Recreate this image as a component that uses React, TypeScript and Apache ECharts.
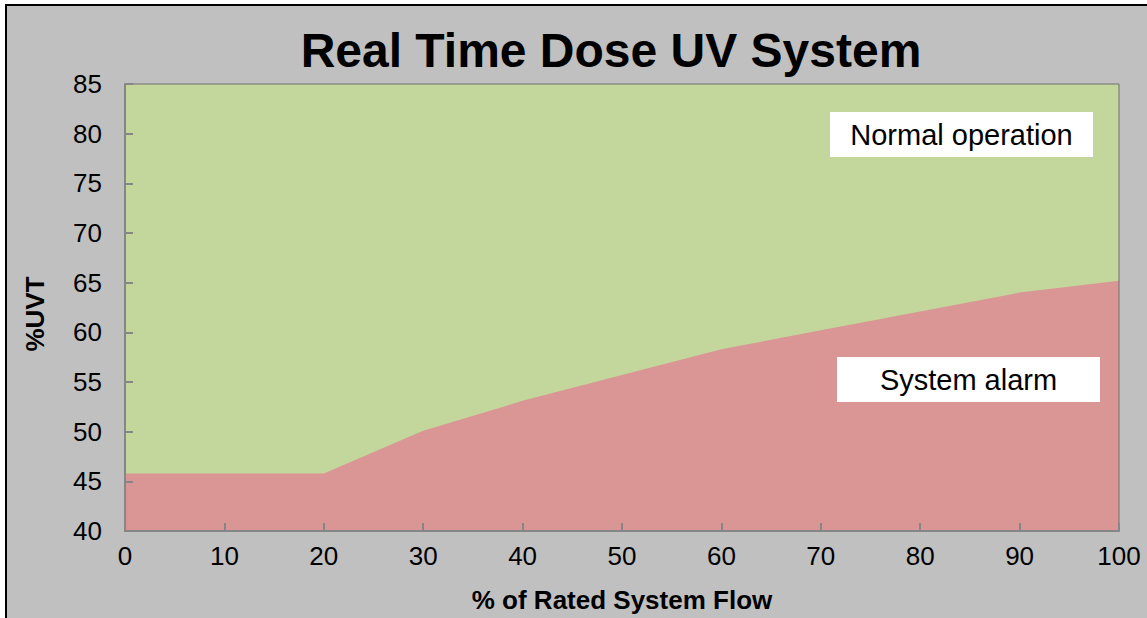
import React, { useEffect, useRef } from "react";
import * as echarts from "echarts";

const flowPercent = [0, 10, 20, 30, 40, 50, 60, 70, 80, 90, 100];
const alarmUVT = [45.8, 45.8, 45.8, 50.1, 53.1, 55.7, 58.3, 60.2, 62.1, 64.0, 65.2];
const topUVT = [85, 85, 85, 85, 85, 85, 85, 85, 85, 85, 85];

const FONT = "'Liberation Sans', Arial, sans-serif";

export default function App() {
  const ref = useRef<HTMLDivElement>(null);
  useEffect(() => {
    if (!ref.current) return;
    const chart = echarts.init(ref.current, null, { renderer: "svg" });
    const normalData = flowPercent.map((x, i) => [x, topUVT[i]]);
    const alarmData = flowPercent.map((x, i) => [x, alarmUVT[i]]);
    chart.setOption({
      animation: false,
      textStyle: { fontFamily: FONT },
      grid: {
        left: 125,
        right: 28,
        top: 84,
        bottom: 87,
        show: true,
        borderColor: "#6e6e6e",
        borderWidth: 1,
        backgroundColor: "transparent",
        z: 5,
      },
      xAxis: {
        type: "value",
        min: 0,
        max: 100,
        interval: 10,
        z: 5,
        name: "% of Rated System Flow",
        nameLocation: "middle",
        nameGap: 69,
        nameTextStyle: {
          fontFamily: FONT,
          fontSize: 26,
          fontWeight: "bold",
          color: "#000",
          verticalAlign: "middle",
        },
        axisLine: { show: true, onZero: false, lineStyle: { color: "#868686", width: 2 } },
        axisTick: { show: true, inside: true, length: 8, lineStyle: { color: "#868686", width: 2 } },
        axisLabel: { fontFamily: FONT, fontSize: 26, color: "#000", margin: 12 },
        splitLine: { show: false },
      },
      yAxis: {
        type: "value",
        min: 40,
        max: 85,
        interval: 5,
        z: 5,
        axisLine: { show: true, lineStyle: { color: "#868686", width: 2 } },
        axisTick: { show: true, inside: true, length: 8, lineStyle: { color: "#868686", width: 2 } },
        axisLabel: { fontFamily: FONT, fontSize: 26, color: "#000", margin: 23 },
        splitLine: { show: false },
      },
      series: [
        {
          name: "Normal operation",
          type: "line",
          data: normalData,
          symbol: "none",
          lineStyle: { width: 0 },
          areaStyle: { color: "#c3d69b", opacity: 1, origin: "start" },
          z: 1,
        },
        {
          name: "System alarm",
          type: "line",
          data: alarmData,
          symbol: "none",
          lineStyle: { width: 0 },
          areaStyle: { color: "#d99694", opacity: 1, origin: "start" },
          z: 2,
        },
      ],
      graphic: [
        {
          type: "text",
          x: 611,
          y: 50,
          z: 10,
          style: {
            text: "Real Time Dose UV System",
            fontFamily: FONT,
            fontSize: 48,
            fontWeight: "bold",
            fill: "#000",
            textAlign: "center",
            textVerticalAlign: "middle",
          },
        },
        {
          type: "text",
          x: 35,
          y: 314,
          rotation: Math.PI / 2,
          z: 10,
          style: {
            text: "%UVT",
            fontFamily: FONT,
            fontSize: 26,
            fontWeight: "bold",
            fill: "#000",
            textAlign: "center",
            textVerticalAlign: "middle",
          },
        },
        {
          type: "rect",
          z: 10,
          shape: { x: 830, y: 112, width: 263, height: 45 },
          style: { fill: "#ffffff" },
        },
        {
          type: "text",
          x: 961.5,
          y: 135,
          z: 11,
          style: {
            text: "Normal operation",
            fontFamily: FONT,
            fontSize: 29,
            fill: "#000",
            textAlign: "center",
            textVerticalAlign: "middle",
          },
        },
        {
          type: "rect",
          z: 10,
          shape: { x: 837, y: 357, width: 263, height: 45 },
          style: { fill: "#ffffff" },
        },
        {
          type: "text",
          x: 968.5,
          y: 380,
          z: 11,
          style: {
            text: "System alarm",
            fontFamily: FONT,
            fontSize: 29,
            fill: "#000",
            textAlign: "center",
            textVerticalAlign: "middle",
          },
        },
      ],
    });
    return () => chart.dispose();
  }, []);

  return (
    <div
      style={{
        position: "fixed",
        left: 0,
        top: 0,
        width: 1147,
        height: 618,
        overflow: "hidden",
        background: "#ffffff",
      }}
    >
      <div
        style={{
          position: "absolute",
          left: 5,
          top: 4,
          width: 1300,
          height: 800,
          borderLeft: "2px solid #000",
          borderTop: "2px solid #000",
          background: "#c0c0c0",
        }}
      />
      <div ref={ref} style={{ position: "absolute", left: 0, top: 0, width: 1147, height: 618 }} />
    </div>
  );
}
